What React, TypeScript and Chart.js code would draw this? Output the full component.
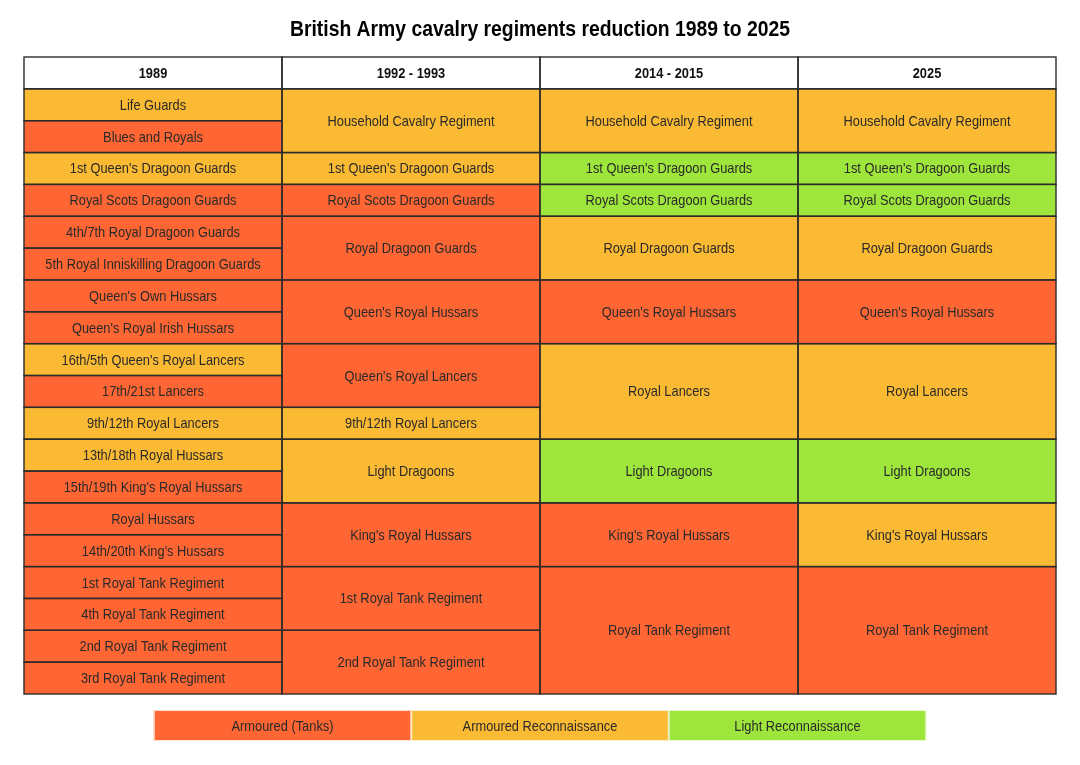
import React, { useEffect, useRef } from "react";
import { Chart, registerables } from "chart.js";
Chart.register(...registerables);

const title = "British Army cavalry regiments reduction 1989 to 2025";
const columns = ["1989", "1992 - 1993", "2014 - 2015", "2025"];
const legendLabels = ["Armoured (Tanks)", "Armoured Reconnaissance", "Light Reconnaissance"];
const legendRoles = ["T", "A", "L"];
const roleColors: Record<string, string> = { T: "#FF6633", A: "#FBBA33", L: "#9EE63C" };

const units1989 = [
  "Life Guards", "Blues and Royals", "1st Queen's Dragoon Guards", "Royal Scots Dragoon Guards",
  "4th/7th Royal Dragoon Guards", "5th Royal Inniskilling Dragoon Guards", "Queen's Own Hussars",
  "Queen's Royal Irish Hussars", "16th/5th Queen's Royal Lancers", "17th/21st Lancers",
  "9th/12th Royal Lancers", "13th/18th Royal Hussars", "15th/19th King's Royal Hussars",
  "Royal Hussars", "14th/20th King's Hussars", "1st Royal Tank Regiment", "4th Royal Tank Regiment",
  "2nd Royal Tank Regiment", "3rd Royal Tank Regiment",
];
const spans1989 = [1, 1, 1, 1, 1, 1, 1, 1, 1, 1, 1, 1, 1, 1, 1, 1, 1, 1, 1];
const roles1989 = ["A", "T", "A", "T", "T", "T", "T", "T", "A", "T", "A", "A", "T", "T", "T", "T", "T", "T", "T"];

const units1992 = [
  "Household Cavalry Regiment", "1st Queen's Dragoon Guards", "Royal Scots Dragoon Guards",
  "Royal Dragoon Guards", "Queen's Royal Hussars", "Queen's Royal Lancers", "9th/12th Royal Lancers",
  "Light Dragoons", "King's Royal Hussars", "1st Royal Tank Regiment", "2nd Royal Tank Regiment",
];
const spans1992 = [2, 1, 1, 2, 2, 2, 1, 2, 2, 2, 2];
const roles1992 = ["A", "A", "T", "T", "T", "T", "A", "A", "T", "T", "T"];

const units2014 = [
  "Household Cavalry Regiment", "1st Queen's Dragoon Guards", "Royal Scots Dragoon Guards",
  "Royal Dragoon Guards", "Queen's Royal Hussars", "Royal Lancers", "Light Dragoons",
  "King's Royal Hussars", "Royal Tank Regiment",
];
const spans2014 = [2, 1, 1, 2, 2, 3, 2, 2, 4];
const roles2014 = ["A", "L", "L", "A", "T", "A", "L", "T", "T"];

const units2025 = [
  "Household Cavalry Regiment", "1st Queen's Dragoon Guards", "Royal Scots Dragoon Guards",
  "Royal Dragoon Guards", "Queen's Royal Hussars", "Royal Lancers", "Light Dragoons",
  "King's Royal Hussars", "Royal Tank Regiment",
];
const spans2025 = [2, 1, 1, 2, 2, 3, 2, 2, 4];
const roles2025 = ["A", "L", "L", "A", "T", "A", "L", "A", "T"];

const columnUnits = [units1989, units1992, units2014, units2025];
const columnSpans = [spans1989, spans1992, spans2014, spans2025];
const columnRoles = [roles1989, roles1992, roles2014, roles2025];

const FAMILY = '"Liberation Sans", Arial, sans-serif';
const CELL_FONT = "14.5px " + FAMILY;
const HEAD_FONT = "bold 14.5px " + FAMILY;
const TITLE_FONT = "bold 21.5px " + FAMILY;
const NARROW = 0.885;

function drawText(ctx: CanvasRenderingContext2D, t: string, x: number, y: number, font: string, color: string, sx: number) {
  ctx.save();
  ctx.font = font;
  ctx.fillStyle = color;
  ctx.textAlign = "center";
  ctx.textBaseline = "middle";
  ctx.translate(x, y);
  ctx.scale(sx, 1);
  ctx.fillText(t, 0, 0);
  ctx.restore();
}

export default function App() {
  const ref = useRef<HTMLCanvasElement>(null);
  useEffect(() => {
    const points: any[] = [];
    const colors: string[] = [];
    const texts: string[] = [];
    const isHead: boolean[] = [];
    columns.forEach((col, c) => {
      points.push({ x: col, y: [-1, 0] });
      colors.push("#FFFFFF");
      texts.push(col);
      isHead.push(true);
      let start = 0;
      columnUnits[c].forEach((u, i) => {
        const end = start + columnSpans[c][i];
        points.push({ x: col, y: [start, end] });
        colors.push(roleColors[columnRoles[c][i]]);
        texts.push(u);
        isHead.push(false);
        start = end;
      });
    });

    const cellPlugin = {
      id: "cells",
      afterDatasetsDraw(chart: any) {
        const ctx = chart.ctx;
        const meta = chart.getDatasetMeta(0);
        ctx.save();
        meta.data.forEach((el: any, i: number) => {
          const p = el.getProps(["x", "y", "base", "width"], true);
          const left = p.x - p.width / 2;
          const top = Math.min(p.y, p.base);
          const h = Math.abs(p.base - p.y);
          ctx.strokeStyle = "#2b2b2b";
          ctx.lineWidth = 1.4;
          ctx.strokeRect(left, top, p.width, h);
          drawText(ctx, texts[i], p.x, top + h / 2 + 1, isHead[i] ? HEAD_FONT : CELL_FONT, isHead[i] ? "#111111" : "#2a2a2a", NARROW);
        });
        ctx.restore();
      },
      afterDraw(chart: any) {
        const ctx = chart.ctx;
        const area = chart.chartArea;
        const cx = (area.left + area.right) / 2;
        drawText(ctx, title, cx, 30, TITLE_FONT, "#000000", 0.9);
        const boxW = 257.5;
        const total = boxW * legendLabels.length;
        const x0 = cx - total / 2;
        const y0 = area.bottom + 16;
        const bh = 31;
        ctx.save();
        legendLabels.forEach((lab, i) => {
          const x = x0 + i * boxW;
          ctx.fillStyle = roleColors[legendRoles[i]];
          ctx.fillRect(x, y0, boxW, bh);
          ctx.strokeStyle = "rgba(255,255,255,0.8)";
          ctx.lineWidth = 1;
          ctx.strokeRect(x + 0.5, y0 + 0.5, boxW - 1, bh - 1);
          drawText(ctx, lab, x + boxW / 2, y0 + bh / 2 + 1, CELL_FONT, "#2a2a2a", NARROW);
        });
        ctx.restore();
      },
    };

    const chart = new Chart(ref.current!, {
      type: "bar",
      data: {
        labels: columns,
        datasets: [
          {
            data: points,
            backgroundColor: colors,
            borderWidth: 0,
            grouped: false,
            barPercentage: 1,
            categoryPercentage: 1,
          } as any,
        ],
      },
      options: {
        responsive: false,
        animation: false,
        events: [],
        layout: { padding: { top: 57, left: 24, right: 24, bottom: 71 } },
        scales: {
          x: { type: "category", display: false, offset: true, grid: { display: false } },
          y: { type: "linear", display: false, reverse: true, min: -1, max: 19 },
        },
        plugins: {
          legend: { display: false },
          tooltip: { enabled: false },
          title: { display: false },
        },
      },
      plugins: [cellPlugin],
    });
    return () => chart.destroy();
  }, []);

  return (
    <div style={{ position: "fixed", left: 0, top: 0, width: 1080, height: 765, background: "#fff" }}>
      <canvas ref={ref} width={1080} height={765} />
    </div>
  );
}
